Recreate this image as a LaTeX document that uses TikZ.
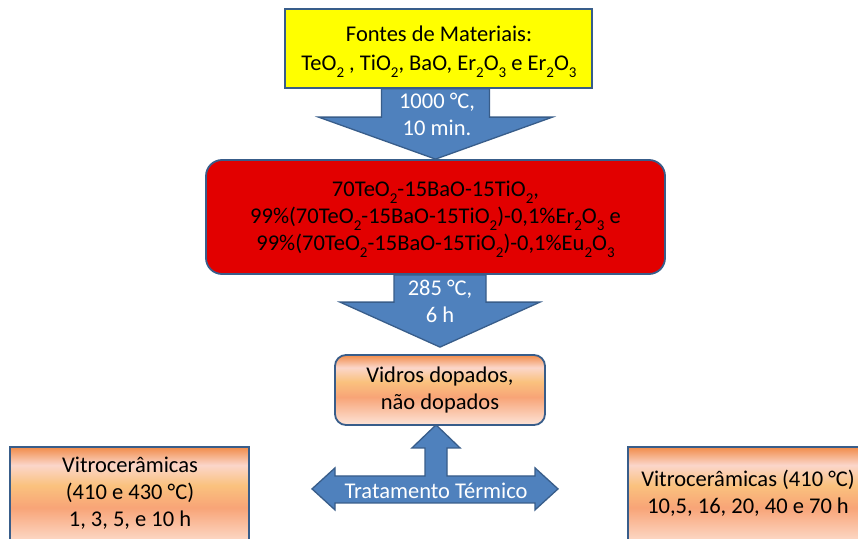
\documentclass[tikz,border=0pt]{standalone}
\usepackage{fontspec}
\setmainfont{Carlito}
\usetikzlibrary{calc}
\definecolor{arrowfill}{RGB}{79,129,189}
\definecolor{edgeblue}{RGB}{56,93,138}
\definecolor{boxred}{RGB}{226,0,0}
\definecolor{boxyellow}{RGB}{255,255,0}
\definecolor{pkA}{RGB}{241,140,74}
\definecolor{pkB}{RGB}{251,214,202}
\definecolor{pkC}{RGB}{250,194,126}
\definecolor{pkD}{RGB}{248,164,119}
\definecolor{pkE}{RGB}{253,228,216}
\pgfdeclareverticalshading{peach}{100bp}{color(0bp)=(pkE); color(25bp)=(pkE); color(45bp)=(pkD); color(56bp)=(pkC); color(66bp)=(pkB); color(75bp)=(pkA); color(100bp)=(pkA)}
\newcommand\chsub[1]{\raisebox{-0.3em}{\fontsize{15}{15}\selectfont #1}}
\newcommand\blkarrow[5]{%
  \path[blockarrow] let \p1=(#1), \p2=(#2) in
    (\x2-#3pt,\y1) -- (\x2+#3pt,\y1) -- (\x2+#3pt,\y2+#5pt) -- (\x2+#4pt,\y2+#5pt)
    -- (\x2,\y2) -- (\x2-#4pt,\y2+#5pt) -- (\x2-#3pt,\y2+#5pt) -- cycle;}
\tikzset{
  blockarrow/.style={fill=arrowfill, draw=edgeblue, line width=1.3pt, line join=miter},
  whitetxt/.style={text=white, align=center, inner sep=0pt},
  darktxt/.style={text=black, align=center, inner sep=0pt},
  peachbox/.style={draw=edgeblue, line width=1.8pt, shading=peach},
}
\begin{document}
\begin{tikzpicture}[x=1pt,y=-1pt,font=\fontsize{22.5}{27}\selectfont]
\clip (0,0) rectangle (858,538);
\fill[white] (0,0) rectangle (858,538);

% boxes
\node[draw=edgeblue, line width=1.6pt, fill=boxyellow, minimum width=307pt, minimum height=79pt]
  (yellow) at (438.5,48.5) {};
\node[darktxt, font=\fontsize{22.5}{29.5}\selectfont] (yellowtxt) at (439,51.5) {Fontes de Materiais:\\ TeO\chsub{2} , TiO\chsub{2}, BaO, Er\chsub{2}O\chsub{3} e Er\chsub{2}O\chsub{3}};
\node[draw=edgeblue, line width=1.8pt, fill=boxred, rounded corners=16pt, minimum width=459pt, minimum height=114pt]
  (red) at (435.5,217) {};
\node[darktxt] (redtxt) at (435.5,219) {70TeO\chsub{2}-15BaO-15TiO\chsub{2},\\ 99\%(70TeO\chsub{2}-15BaO-15TiO\chsub{2})-0,1\%Er\chsub{2}O\chsub{3} e\\ 99\%(70TeO\chsub{2}-15BaO-15TiO\chsub{2})-0,1\%Eu\chsub{2}O\chsub{3}};
\node[peachbox, rounded corners=11pt, minimum width=210pt, minimum height=70pt, darktxt]
  (vidros) at (440,390) {Vidros dopados,\\ não dopados};
\node[peachbox, minimum width=239pt, minimum height=101pt] (leftbox) at (129.5,497.5) {};
\node[darktxt] (lefttxt) at (130,493) {Vitrocerâmicas\\ (410 e 430 °C)\\ 1, 3, 5, e 10 h};
\node[peachbox, minimum width=242pt, minimum height=101pt] (rightbox) at (749,497.5) {};
\node[darktxt] (righttxt) at (748,493.5) {Vitrocerâmicas (410 °C)\\ 10,5, 16, 20, 40 e 70 h};

% block arrows
\coordinate (a2tip) at ($(vidros.north)+(0,-7)$);
\blkarrow{yellow.south}{red.north}{54}{117}{42}
\blkarrow{red.south}{a2tip}{46}{100}{45}
\node[whitetxt] (a1txt) at (437,114.5) {1000 °C,\\ 10 min.};
\node[whitetxt] (a2txt) at (440,301.5) {285 °C,\\ 6 h};

% treatment arrow
\coordinate (tt) at ($(vidros.south)+(-4,63)$);
\path[blockarrow] (tt) ++(-124,0) -- ++(23,-21) -- ++(0,8) -- ++(90,0) -- ++(0,-28) -- ++(-13,0)
  -- ++(24,-23) -- ++(24,23) -- ++(-13,0) -- ++(0,28) -- ++(88,0) -- ++(0,-8) -- ++(23,21)
  -- ++(-23,21) -- ++(0,-7) -- ++(-200,0) -- ++(0,7) -- cycle;
\node[whitetxt] (ttxt) at ($(tt)+(0,2)$) {Tratamento Térmico};
\end{tikzpicture}
\end{document}
